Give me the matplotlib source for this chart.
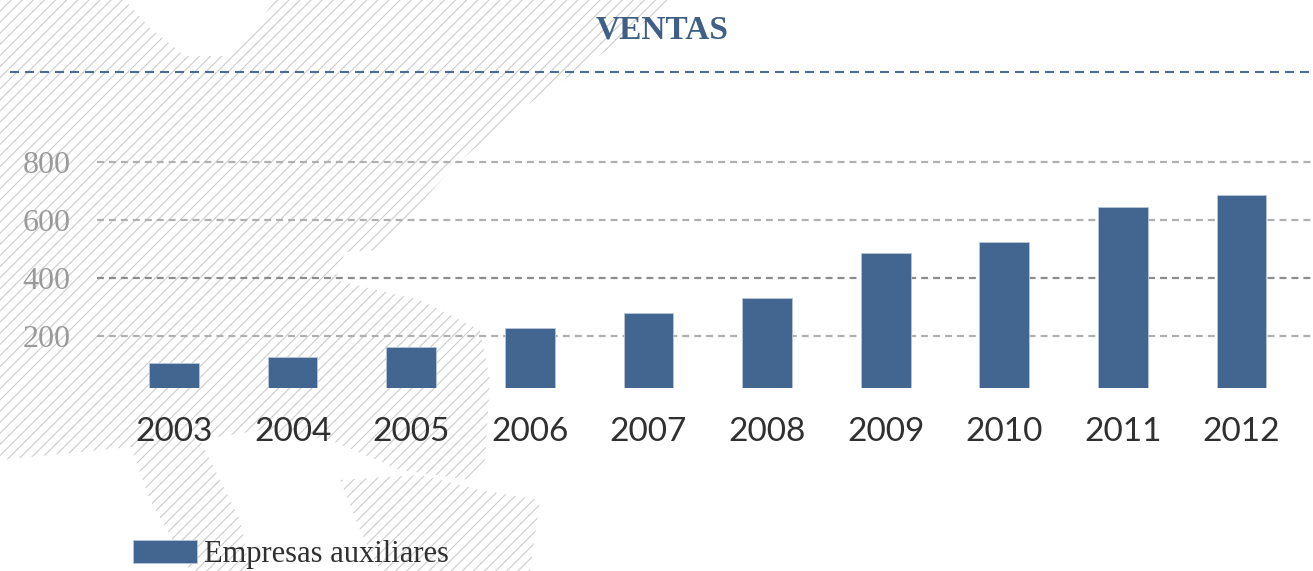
import matplotlib
matplotlib.use("Agg")
import matplotlib.pyplot as plt
from matplotlib.patches import Polygon
from matplotlib.lines import Line2D

years = ["2003", "2004", "2005", "2006", "2007", "2008", "2009", "2010", "2011", "2012"]
ventas = [106, 129, 161, 229, 278, 331, 486, 524, 644, 687]
y_ticks = [200, 400, 600, 800]
y_tick_labels = ["200", "400", "600", "800"]
series_name = "Empresas auxiliares"
title = "VENTAS"

W, H = 1313, 571
plt.rcParams['lines.scale_dashes'] = False
plt.rcParams['hatch.linewidth'] = 0.8
fig = plt.figure(figsize=(W / 100, H / 100), dpi=100)
fig.patch.set_facecolor("white")


def px(pts):
    return [(x / W, 1 - y / H) for x, y in pts]


# decorative hatched background (map shape)
hatch_shapes = [
    [(0, 0), (125, 0), (150, 28), (185, 56), (225, 56), (255, 28), (275, 0), (675, 0),
     (600, 55), (520, 110), (455, 165), (410, 215), (380, 250), (345, 252), (335, 280),
     (420, 300), (480, 330), (490, 380), (485, 460), (470, 480), (400, 470), (330, 440),
     (260, 430), (200, 440), (100, 450), (0, 460)],
    [(130, 445), (200, 440), (240, 520), (250, 571), (190, 571), (150, 500)],
    [(340, 480), (420, 475), (480, 490), (540, 500), (530, 571), (380, 571), (360, 530)],
]
for shp in hatch_shapes:
    poly = Polygon(px(shp), closed=True, transform=fig.transFigure,
                   facecolor="none", edgecolor="#cdcdcd", linewidth=0,
                   hatch="///", zorder=-5)
    fig.patches.append(poly)

# axes placement
ymin, ymax = 22, 840
zero_px, per_unit = 394.0, 0.29
top_px = zero_px - ymax * per_unit
bot_px = zero_px - ymin * per_unit
left_px = 97
ax = fig.add_axes([left_px / W, 1 - bot_px / H, (W - left_px) / W, (bot_px - top_px) / H])
ax.patch.set_alpha(0)
ax.set_zorder(1)

x = list(range(len(years)))
ax.bar(x, ventas, width=0.42, color="#426690", edgecolor="#b8c6d8", linewidth=0.6,
       zorder=3, label=series_name)
ax.set_xlim(-0.649, 9.603)
ax.set_ylim(ymin, ymax)

for t in y_ticks:
    col = "#8c8c8c" if t == 400 else "#b0b0b0"
    ax.axhline(t, color=col, linewidth=1.6, linestyle=(0, (5, 3.6)), zorder=1)

ax.set_yticks(y_ticks)
ax.set_yticklabels(y_tick_labels, fontfamily="Liberation Serif", fontsize=23, color="#9a9a9a")
ax.set_xticks(x)
ax.set_xticklabels(years, fontfamily="Lato", fontsize=24, color="#303030")
ax.tick_params(axis="y", length=0, pad=19)
ax.tick_params(axis="x", length=0, pad=21)
for s in ax.spines.values():
    s.set_visible(False)

# title and dashed rule
fig.text(662 / W, 1 - 30 / H, title, ha="center", va="center", fontfamily="Liberation Serif",
         fontweight="bold", fontsize=24, color="#3f5f86")
fig.add_artist(Line2D([10 / W, 1], [1 - 72 / H, 1 - 72 / H], transform=fig.transFigure,
                      color="#4a6d96", linewidth=1.5, linestyle=(0, (6.5, 4.3))))

leg = ax.legend(loc="lower left", bbox_to_anchor=(133 / W, 1 - 569 / H),
                bbox_transform=fig.transFigure, frameon=False, borderpad=0,
                borderaxespad=0, handlelength=2.1, handleheight=0.75, handletextpad=0.22,
                prop={"family": "Liberation Serif", "size": 22})
for t in leg.get_texts():
    t.set_color("#303030")

fig.savefig("out.png", dpi=100)
